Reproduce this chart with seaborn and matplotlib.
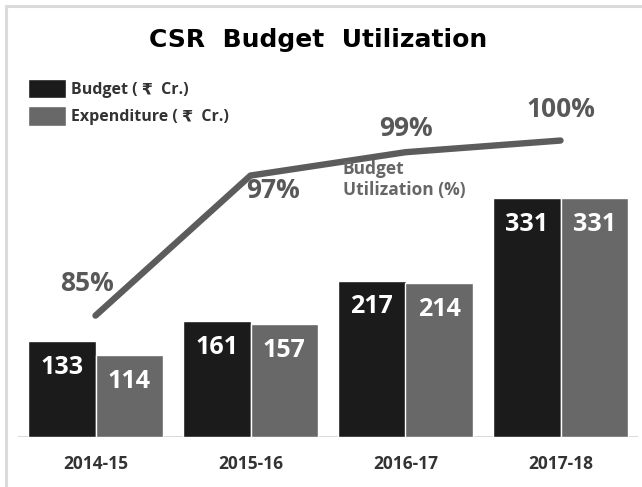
"""
CSR budget utilization chart: budget vs expenditure bars with a utilization line.

Run this script:

    python plot.py
"""

import matplotlib

matplotlib.use("Agg")

import matplotlib.pyplot as plt
import pandas as pd
import seaborn as sns
from matplotlib.lines import Line2D


# -----------------------------
# 1. Chart data
# -----------------------------

YEARS = ["2014-15", "2015-16", "2016-17", "2017-18"]
BUDGET = [133, 161, 217, 331]
EXPENDITURE = [114, 157, 214, 331]
UTILIZATION = [85, 97, 99, 100]

SERIES_NAMES = ["Budget ( ₹  Cr.)", "Expenditure ( ₹  Cr.)"]

# Offsets (points) of the percentage labels from their line points.
PCT_LABEL_OFFSETS = [(-6, 23), (16, -11), (0, 17), (0, 22)]

# Colors.
BUDGET_COLOR = "#1b1b1b"
EXPENDITURE_COLOR = "#686868"
LINE_COLOR = "#5c5c5c"
TEXT_DARK = "#333333"
FRAME_COLOR = "#dadada"

OUTPUT_FILE = "out.png"


# -----------------------------
# 2. Helper functions
# -----------------------------

def build_long_table() -> pd.DataFrame:
    """Put both bar series into one long table for seaborn's hue."""
    budget = pd.DataFrame({"Year": YEARS, "Value": BUDGET, "Series": SERIES_NAMES[0]})
    spend = pd.DataFrame({"Year": YEARS, "Value": EXPENDITURE, "Series": SERIES_NAMES[1]})
    return pd.concat([budget, spend], ignore_index=True)


def draw_frame(fig: plt.Figure) -> None:
    """Light grey frame on the top and left edges, like the screenshot."""
    x0 = 6 / 642
    y0 = 1 - 6 / 487
    fig.add_artist(Line2D([x0, 1.0], [y0, y0], color=FRAME_COLOR, lw=2.2))
    fig.add_artist(Line2D([x0, x0], [0.0, y0], color=FRAME_COLOR, lw=2.2))


def plot_chart() -> None:
    sns.set_style("white")
    plt.rcParams["font.family"] = ["Open Sans", "DejaVu Sans"]

    fig = plt.figure(figsize=(6.42, 4.87), dpi=100)
    ax = fig.add_axes([18 / 642, 50 / 487, 620 / 642, 377 / 487])

    table = build_long_table()
    sns.barplot(
        data=table,
        x="Year",
        y="Value",
        hue="Series",
        palette=[BUDGET_COLOR, EXPENDITURE_COLOR],
        width=0.87,
        gap=0,
        saturation=1,
        ax=ax,
    )

    ax.set_ylim(0, 523)
    ax.set_xlim(-0.5, 3.5)
    ax.set_xlabel("")
    ax.set_ylabel("")
    ax.set_yticks([])
    sns.despine(ax=ax, left=True, bottom=True)
    ax.axhline(0, color="#d6d6d6", lw=1.3, zorder=0)
    ax.tick_params(axis="x", length=0, pad=13)
    for label in ax.get_xticklabels():
        label.set_fontsize(12.5)
        label.set_fontweight("bold")
        label.set_color(TEXT_DARK)

    # White value labels just inside the top of each bar.
    for container in ax.containers:
        ax.bar_label(
            container,
            padding=-28,
            color="white",
            fontsize=18,
            fontweight="bold",
        )

    handles, labels = ax.get_legend_handles_labels()
    ax.legend(
        handles,
        labels,
        loc="upper left",
        bbox_to_anchor=(28 / 642, 1 - 79 / 487),
        bbox_transform=fig.transFigure,
        frameon=False,
        handlelength=2.4,
        handleheight=1.5,
        handletextpad=0.3,
        labelspacing=0.5,
        borderpad=0,
        borderaxespad=0,
        prop={"weight": "bold", "size": 11.5},
    )
    for text in ax.get_legend().get_texts():
        text.set_color(TEXT_DARK)

    # Utilization line on its own percentage axis.
    ax2 = ax.twinx()
    ax2.set_ylim(74.6, 106.9)
    sns.lineplot(
        x=list(range(len(YEARS))),
        y=UTILIZATION,
        color=LINE_COLOR,
        lw=4.6,
        solid_capstyle="round",
        solid_joinstyle="round",
        ax=ax2,
    )
    ax2.set_yticks([])
    ax2.set_ylabel("")
    sns.despine(ax=ax2, left=True, bottom=True, right=True)

    for i, (pct, offset) in enumerate(zip(UTILIZATION, PCT_LABEL_OFFSETS)):
        ax2.annotate(
            f"{pct}%",
            xy=(i, pct),
            xytext=offset,
            textcoords="offset points",
            ha="center",
            va="center",
            fontsize=19,
            fontweight="bold",
            color="#585858",
        )

    fig.text(
        343 / 642,
        1 - 160 / 487,
        "Budget\nUtilization (%)",
        ha="left",
        va="top",
        fontsize=12.5,
        fontweight="bold",
        color="#666666",
        linespacing=1.25,
    )

    fig.text(
        0.495,
        1 - 40 / 487,
        "CSR  Budget  Utilization",
        ha="center",
        va="center",
        fontsize=18,
        fontweight="bold",
        family="DejaVu Sans",
        color="black",
    )

    draw_frame(fig)
    fig.savefig(OUTPUT_FILE, dpi=100, facecolor="white")


# -----------------------------
# 3. Main workflow
# -----------------------------

def main() -> None:
    plot_chart()


if __name__ == "__main__":
    main()
